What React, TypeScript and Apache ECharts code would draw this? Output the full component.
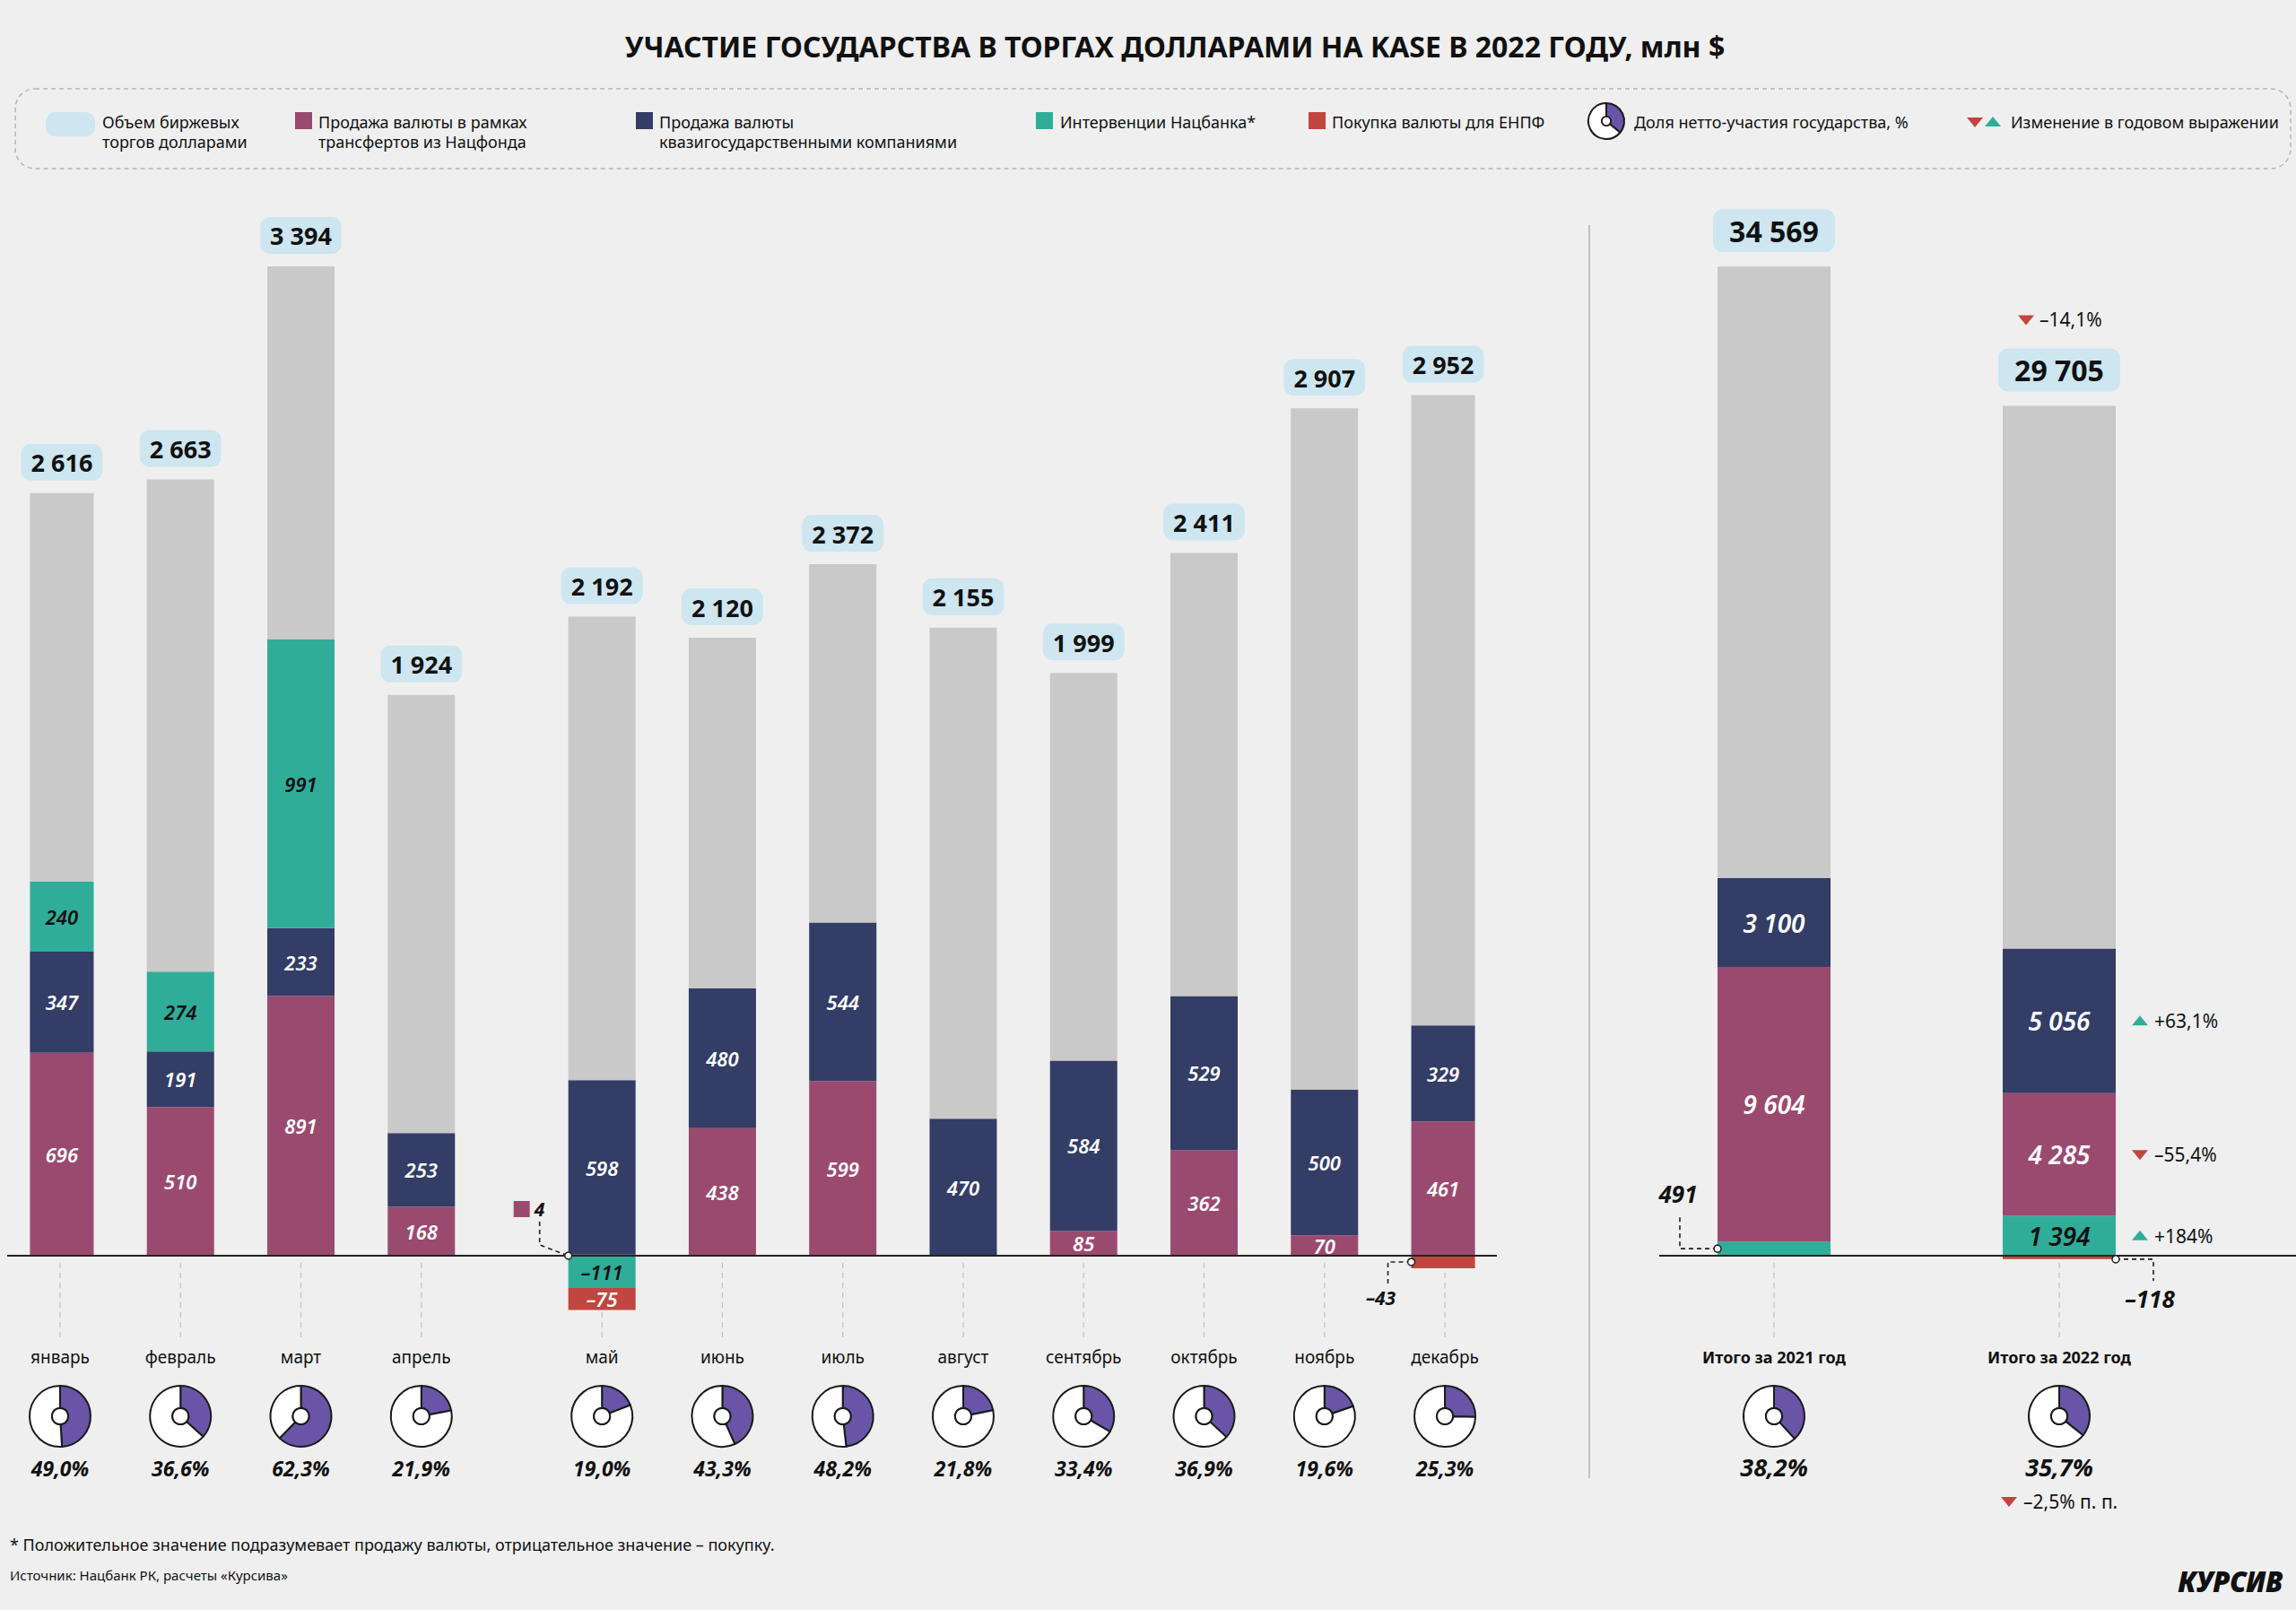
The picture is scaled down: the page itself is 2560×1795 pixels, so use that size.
import React, { useEffect, useRef } from "react";
import * as echarts from "echarts";

const TITLE = "УЧАСТИЕ ГОСУДАРСТВА В ТОРГАХ ДОЛЛАРАМИ НА KASE В 2022 ГОДУ, млн $";

const months = ["январь", "февраль", "март", "апрель", "май", "июнь", "июль", "август", "сентябрь", "октябрь", "ноябрь", "декабрь"];
// half-width slots on the category axis; April→May has an extra half gap
const monthSlots = [0, 2, 4, 6, 9, 11, 13, 15, 17, 19, 21, 23];
const SLOT_COUNT = 24;
const monthTotal = [2616, 2663, 3394, 1924, 2192, 2120, 2372, 2155, 1999, 2411, 2907, 2952];
const monthFund = [696, 510, 891, 168, 4, 438, 599, 0, 85, 362, 70, 461];
const monthQuasi = [347, 191, 233, 253, 598, 480, 544, 470, 584, 529, 500, 329];
const monthNB = [240, 274, 991, 0, -111, 0, 0, 0, 0, 0, 0, 0];
const monthENPF = [0, 0, 0, 0, -75, 0, 0, 0, 0, 0, 0, -43];
const monthShare = [49.0, 36.6, 62.3, 21.9, 19.0, 43.3, 48.2, 21.8, 33.4, 36.9, 19.6, 25.3];

const yearLabels = ["Итого за 2021 год", "Итого за 2022 год"];
const yearTotal = [34569, 29705];
const yearNB = [491, 1394];
const yearFund = [9604, 4285];
const yearQuasi = [3100, 5056];
const yearENPF = [0, -118];
const yearShare = [38.2, 35.7];

const changeTotal = "–14,1%";
const changeQuasi = "+63,1%";
const changeFund = "–55,4%";
const changeNB = "+184%";
const changeShare = "–2,5% п. п.";

const legendLines = [
  ["Объем биржевых", "торгов долларами"],
  ["Продажа валюты в рамках", "трансфертов из Нацфонда"],
  ["Продажа валюты", "квазигосударственными компаниями"],
  ["Интервенции Нацбанка*"],
  ["Покупка валюты для ЕНПФ"],
  ["Доля нетто-участия государства, %"],
  ["Изменение в годовом выражении"],
];
const FOOTNOTE = "* Положительное значение подразумевает продажу валюты, отрицательное значение – покупку.";
const SOURCE = "Источник: Нацбанк РК, расчеты «Курсива»";
const LOGO = "КУРСИВ";

const C = {
  bg: "#efefef",
  grey: "#c9c9c9",
  pink: "#9b4a6f",
  navy: "#333d66",
  green: "#30ad98",
  red: "#c1463f",
  box: "#cde6f0",
  purple: "#6a54a7",
  text: "#111111",
};
const FONT = '"Noto Sans", sans-serif';

function fmt(v: number): string {
  const s = Math.abs(v).toString().replace(/\B(?=(\d{3})+(?!\d))/g, " ");
  return (v < 0 ? "–" : "") + s;
}
function pct(v: number): string {
  return v.toFixed(1).replace(".", ",") + "%";
}
function restOf(total: number[], parts: number[][]): number[] {
  return total.map((t, i) => t - parts.reduce((s, p) => s + (p[i] > 0 ? p[i] : 0), 0));
}
function toSlots(vals: number[]): any[] {
  const out: any[] = new Array(SLOT_COUNT).fill("-");
  monthSlots.forEach((s, i) => (out[s] = vals[i]));
  return out;
}

function seg(grid: number, data: any[], color: string, labelColor: string, fontSize: number, minAbs: number) {
  return {
    type: "bar",
    xAxisIndex: grid,
    yAxisIndex: grid,
    stack: "s" + grid,
    barWidth: grid === 0 ? 75 : 126,
    data,
    itemStyle: { color },
    silent: true,
    emphasis: { disabled: true },
    label: {
      show: true,
      position: "inside",
      color: labelColor,
      fontFamily: FONT,
      fontStyle: "italic",
      fontWeight: 600,
      fontSize,
      formatter: (p: any) => (typeof p.value !== "number" || Math.abs(p.value) < minAbs ? "" : fmt(p.value)),
    },
  };
}

function greySeries(grid: number, data: any[], totalOf: (i: number) => number, fontSize: number, pad: number[], dist: number) {
  return {
    type: "bar",
    xAxisIndex: grid,
    yAxisIndex: grid,
    stack: "s" + grid,
    barWidth: grid === 0 ? 75 : 126,
    data,
    itemStyle: { color: C.grey },
    silent: true,
    emphasis: { disabled: true },
    label: {
      show: true,
      position: "top",
      distance: dist,
      formatter: (p: any) => fmt(totalOf(p.dataIndex)),
      backgroundColor: C.box,
      borderRadius: 11,
      padding: pad,
      fontSize,
      lineHeight: fontSize + 1,
      fontWeight: "bold",
      color: C.text,
      fontFamily: FONT,
    },
  };
}

function pieSeries(center: number[], share: number, r: number, r0: number) {
  return {
    type: "pie",
    center,
    radius: [r0, r],
    startAngle: 90,
    clockwise: true,
    silent: true,
    label: { show: false },
    labelLine: { show: false },
    emphasis: { disabled: true },
    itemStyle: { borderColor: "#1a1a1a", borderWidth: 2 },
    data: [
      { value: share, itemStyle: { color: C.purple } },
      { value: 100 - share, itemStyle: { color: "#ffffff" } },
    ],
  };
}

function txt(text: string, x: number, y: number, font: string, align = "center", fill = C.text): any {
  return {
    type: "text",
    silent: true,
    z: 50,
    style: { text, x, y, font, fill, align, textAlign: align, verticalAlign: "middle", textVerticalAlign: "middle" },
  };
}

function tri(cx: number, cy: number, down: boolean, color: string): any {
  const pts = down
    ? [[cx - 9, cy - 5], [cx + 9, cy - 5], [cx, cy + 6]]
    : [[cx - 9, cy + 5], [cx + 9, cy + 5], [cx, cy - 6]];
  return { type: "polygon", silent: true, z: 50, shape: { points: pts }, style: { fill: color } };
}

function dashLine(points: number[][]): any {
  return {
    type: "polyline",
    silent: true,
    z: 50,
    shape: { points },
    style: { stroke: "#222", lineWidth: 1.6, lineDash: [5, 4], fill: "none" },
  };
}

function dot(x: number, y: number): any {
  return { type: "circle", silent: true, z: 60, shape: { cx: x, cy: y, r: 4 }, style: { fill: "#fff", stroke: "#222", lineWidth: 1.5 } };
}

export default function App() {
  const ref = useRef<HTMLDivElement>(null);

  useEffect(() => {
    document.body.style.margin = "0";
    const chart = echarts.init(ref.current as HTMLDivElement, null, { renderer: "svg" });

    const monthRest = restOf(monthTotal, [monthFund, monthQuasi, monthNB, monthENPF]);
    const yearRest = restOf(yearTotal, [yearNB, yearFund, yearQuasi, yearENPF]);
    const monthOfSlot = (slot: number) => monthSlots.indexOf(slot);

    const bars: any[] = [
      seg(0, toSlots(monthFund), C.pink, "#fff", 22, 50),
      seg(0, toSlots(monthQuasi), C.navy, "#fff", 22, 50),
      seg(0, toSlots(monthNB), C.green, C.text, 22, 50),
      greySeries(0, toSlots(monthRest), (s) => monthTotal[monthOfSlot(s)], 27, [7, 11, 6, 11], 14),
      seg(0, toSlots(monthENPF), C.red, "#fff", 22, 50),
      seg(1, yearNB, C.green, C.text, 28, 600),
      seg(1, yearFund, C.pink, "#fff", 28, 600),
      seg(1, yearQuasi, C.navy, "#fff", 28, 600),
      greySeries(1, yearRest, (i) => yearTotal[i], 32, [8, 18, 7, 18], 16),
      seg(1, yearENPF, C.red, "#fff", 28, 600),
    ];

    const slotNames = new Array(SLOT_COUNT).fill("");
    monthSlots.forEach((s, i) => (slotNames[s] = months[i]));

    const axisX = (grid: number, data: string[]) => ({
      gridIndex: grid,
      type: "category",
      data,
      boundaryGap: true,
      axisLine: { show: false },
      axisTick: { show: false },
      axisLabel: { show: false },
      splitLine: { show: false },
    });

    chart.setOption({
      animation: false,
      backgroundColor: C.bg,
      textStyle: { fontFamily: FONT },
      grid: [
        { left: 33.4, top: 230, width: 1611.2, height: 1300 },
        { left: 1819, top: 251.6, width: 636, height: 1276 },
      ],
      xAxis: [axisX(0, slotNames), axisX(1, yearLabels)],
      yAxis: [
        { gridIndex: 0, type: "value", min: -400, max: 3600, show: false },
        { gridIndex: 1, type: "value", min: -4000, max: 36000, show: false },
      ],
      series: bars,
    });

    const p0 = (x: number, y: number) => chart.convertToPixel({ gridIndex: 0 } as any, [x, y]) as number[];
    const p1 = (x: number, y: number) => chart.convertToPixel({ gridIndex: 1 } as any, [x, y]) as number[];

    const Y0 = p0(0, 0)[1];
    const Y1 = p1(0, 0)[1];
    const monthX = monthSlots.map((s) => p0(s, 0)[0]);
    const yearX = yearLabels.map((_, i) => p1(i, 0)[0]);

    const PIE_Y = 1579;
    const pies: any[] = [
      ...monthX.map((x, i) => pieSeries([x, PIE_Y], monthShare[i], 34, 9)),
      ...yearX.map((x, i) => pieSeries([x, PIE_Y], yearShare[i], 34, 9)),
      pieSeries([1791, 135], 36, 20, 5),
    ];

    const g: any[] = [];
    // title
    g.push(txt(TITLE, 1310, 51, `bold 32px ${FONT}`));
    // legend frame
    g.push({
      type: "rect",
      silent: true,
      shape: { x: 17, y: 99, width: 2537, height: 89, r: 22 },
      style: { fill: "none", stroke: "#b5b5b5", lineWidth: 1.5, lineDash: [5, 4] },
    });
    const LF = `18px ${FONT}`;
    const addLegendText = (lines: string[], x: number) => {
      g.push(txt(lines[0], x, 136, LF, "left"));
      if (lines.length > 1) g.push(txt(lines[1], x, 158, LF, "left"));
    };
    g.push({ type: "rect", silent: true, shape: { x: 51, y: 125, width: 55, height: 27, r: 11 }, style: { fill: C.box } });
    addLegendText(legendLines[0], 114);
    g.push({ type: "rect", silent: true, shape: { x: 329, y: 125, width: 19, height: 19 }, style: { fill: C.pink } });
    addLegendText(legendLines[1], 355);
    g.push({ type: "rect", silent: true, shape: { x: 709, y: 125, width: 19, height: 19 }, style: { fill: C.navy } });
    addLegendText(legendLines[2], 735);
    g.push({ type: "rect", silent: true, shape: { x: 1155, y: 125, width: 19, height: 19 }, style: { fill: C.green } });
    addLegendText(legendLines[3], 1182);
    g.push({ type: "rect", silent: true, shape: { x: 1459, y: 125, width: 19, height: 19 }, style: { fill: C.red } });
    addLegendText(legendLines[4], 1485);
    g.push({ type: "circle", silent: true, z: 100, shape: { cx: 1791, cy: 135, r: 5 }, style: { fill: "#fff", stroke: "#1a1a1a", lineWidth: 1.5 } });
    addLegendText(legendLines[5], 1822);
    g.push(tri(2202, 136, true, C.red));
    g.push(tri(2222, 136, false, C.green));
    addLegendText(legendLines[6], 2242);

    // baselines
    g.push({ type: "line", silent: true, z: 40, shape: { x1: 8, y1: Y0, x2: 1669, y2: Y0 }, style: { stroke: "#222", lineWidth: 2 } });
    g.push({ type: "line", silent: true, z: 40, shape: { x1: 1850, y1: Y1, x2: 2560, y2: Y1 }, style: { stroke: "#222", lineWidth: 2 } });

    // separator
    g.push({ type: "line", silent: true, shape: { x1: 1772, y1: 251, x2: 1772, y2: 1648 }, style: { stroke: "#b0b0b0", lineWidth: 1.5 } });

    const tick = (x: number, y0: number) => ({
      type: "line",
      silent: true,
      shape: { x1: x, y1: y0 + 8, x2: x, y2: 1496 },
      style: { stroke: "#c4c4c4", lineWidth: 1.3, lineDash: [6, 5] },
    });
    monthX.forEach((x, i) => {
      g.push(tick(x, Y0));
      g.push(txt(months[i], x, 1513, `19px ${FONT}`));
      g.push({ type: "circle", silent: true, z: 100, shape: { cx: x, cy: PIE_Y, r: 9 }, style: { fill: "#fff", stroke: "#1a1a1a", lineWidth: 2 } });
      g.push(txt(pct(monthShare[i]), x, 1637, `italic bold 23px ${FONT}`));
    });
    yearX.forEach((x, i) => {
      g.push(tick(x, Y1));
      g.push(txt(yearLabels[i], x, 1513, `bold 18px ${FONT}`));
      g.push({ type: "circle", silent: true, z: 100, shape: { cx: x, cy: PIE_Y, r: 9 }, style: { fill: "#fff", stroke: "#1a1a1a", lineWidth: 2 } });
      g.push(txt(pct(yearShare[i]), x, 1635, `italic bold 27px ${FONT}`));
    });

    // May: tiny fund value
    const mayIdx = 4;
    const mayL = monthX[mayIdx] - 37.5;
    g.push({ type: "rect", silent: true, z: 50, shape: { x: mayL - 61, y: Y0 - 61, width: 18, height: 18 }, style: { fill: C.pink } });
    g.push(txt(fmt(monthFund[mayIdx]), mayL - 38, Y0 - 52, `italic bold 21px ${FONT}`, "left"));
    g.push(dashLine([[mayL - 32, Y0 - 38], [mayL - 32, Y0 - 12], [mayL, Y0]]));
    g.push(dot(mayL, Y0));

    // December: ENPF
    const decIdx = 11;
    const decL = monthX[decIdx] - 37.5;
    const decY = p0(monthSlots[decIdx], monthENPF[decIdx] / 2)[1];
    g.push(dashLine([[decL, decY], [decL - 26, decY], [decL - 26, decY + 26]]));
    g.push(dot(decL, decY));
    g.push(txt(fmt(monthENPF[decIdx]), decL - 34, Y0 + 47, `italic bold 21px ${FONT}`));

    // 2021: NB 491
    const l21 = yearX[0] - 63;
    const y21 = p1(0, yearNB[0] / 2)[1];
    g.push(dashLine([[l21, y21], [l21 - 42, y21], [l21 - 42, y21 - 39]]));
    g.push(dot(l21, y21));
    g.push(txt(fmt(yearNB[0]), l21 - 44, Y1 - 69, `italic bold 26px ${FONT}`));

    // 2022: ENPF -118
    const r22 = yearX[1] + 63;
    const y22 = p1(1, yearENPF[1] / 2)[1] + 2;
    g.push(dashLine([[r22, y22], [r22 + 42, y22], [r22 + 42, y22 + 24]]));
    g.push(dot(r22, y22));
    g.push(txt(fmt(yearENPF[1]), r22 + 38, Y1 + 48, `italic bold 26px ${FONT}`));

    // annual changes
    const CF = `21px ${FONT}`;
    const mids: number[] = [];
    let base = 0;
    [yearNB[1], yearFund[1], yearQuasi[1]].forEach((v) => {
      mids.push(base + v / 2);
      base += v;
    });
    const changeRows = [
      { y: p1(1, mids[0])[1], text: changeNB, down: false },
      { y: p1(1, mids[1])[1], text: changeFund, down: true },
      { y: p1(1, mids[2])[1], text: changeQuasi, down: false },
    ];
    changeRows.forEach((r) => {
      g.push(tri(r22 + 27, r.y, r.down, r.down ? C.red : C.green));
      g.push(txt(r.text, r22 + 43, r.y, CF, "left"));
    });
    const top22 = p1(1, yearTotal[1])[1];
    g.push(tri(yearX[1] - 37, top22 - 96, true, C.red));
    g.push(txt(changeTotal, yearX[1] - 22, top22 - 96, CF, "left"));
    g.push(tri(yearX[1] - 56, 1674, true, C.red));
    g.push(txt(changeShare, yearX[1] - 40, 1674, CF, "left"));

    // footer
    g.push(txt(FOOTNOTE, 11, 1722, `18px ${FONT}`, "left"));
    g.push(txt(SOURCE, 11, 1756, `15px ${FONT}`, "left"));
    g.push(txt(LOGO, 2545, 1763, `italic 900 31px ${FONT}`, "right"));

    chart.setOption({ series: [...bars, ...pies], graphic: { elements: g } });

    return () => chart.dispose();
  }, []);

  return <div ref={ref} style={{ width: 2560, height: 1795 }} />;
}
